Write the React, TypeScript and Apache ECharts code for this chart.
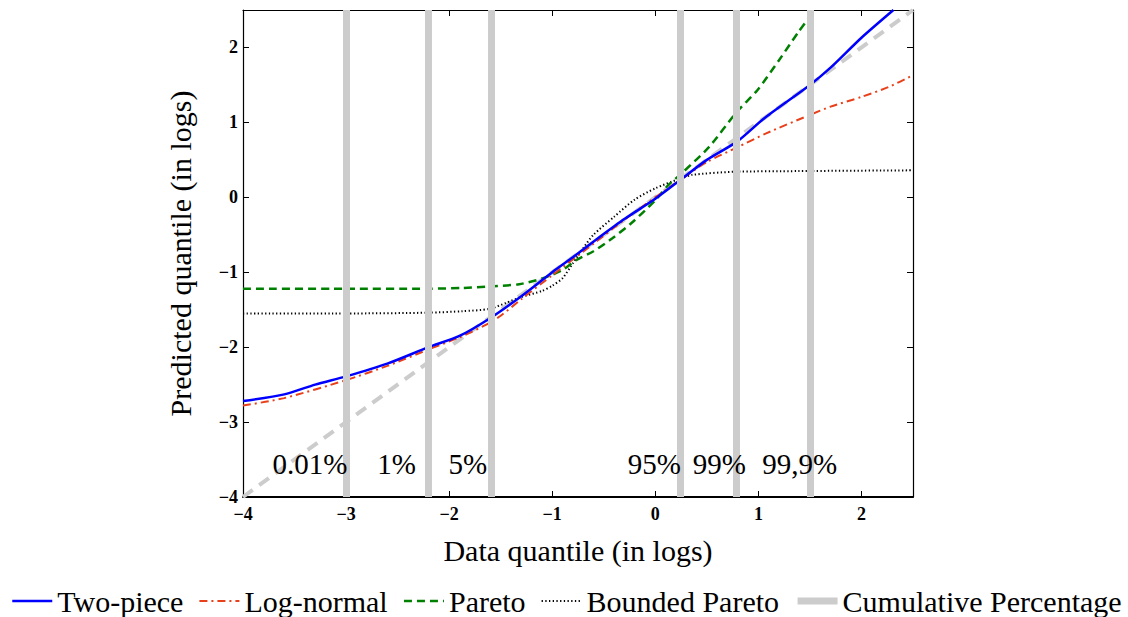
import React, { useEffect, useRef } from "react";
import * as echarts from "echarts";

// ---- data ----
const xTwoPiece = [-4, -3.6, -3.3, -3.0, -2.6, -2.2, -1.9, -1.6, -1.3, -1.0, -0.8, -0.55, -0.3, 0, 0.25, 0.5, 0.8, 1.07, 1.5, 1.7, 2.0, 2.31];
const yTwoPiece = [-2.72, -2.63, -2.5, -2.39, -2.22, -2.0, -1.85, -1.61, -1.32, -1.0, -0.8, -0.54, -0.29, -0.02, 0.24, 0.5, 0.75, 1.07, 1.5, 1.73, 2.13, 2.5];

const xLogNormal = [-4, -3.6, -3.0, -2.6, -2.2, -1.9, -1.64, -1.5, -1.3, -1.0, -0.6, -0.3, 0, 0.25, 0.5, 0.8, 1.07, 1.5, 1.7, 2.0, 2.26, 2.5];
const yLogNormal = [-2.78, -2.68, -2.44, -2.25, -2.03, -1.87, -1.7, -1.58, -1.36, -1.04, -0.62, -0.3, 0.0, 0.24, 0.47, 0.67, 0.85, 1.1, 1.21, 1.34, 1.47, 1.63];

const xPareto = [-4, -3, -2.2, -1.87, -1.61, -1.32, -1.09, -0.9, -0.77, -0.6, -0.42, -0.22, 0, 0.13, 0.24, 0.52, 0.79, 0.99, 1.2, 1.39, 1.52];
const yPareto = [-1.22, -1.22, -1.22, -1.21, -1.19, -1.16, -1.08, -0.97, -0.84, -0.72, -0.55, -0.33, -0.04, 0.17, 0.3, 0.67, 1.14, 1.43, 1.83, 2.21, 2.45];

const xBounded = [-4, -3, -2.2, -1.87, -1.61, -1.45, -1.3, -1.1, -1.0, -0.9, -0.8, -0.7, -0.6, -0.4, -0.2, 0, 0.24, 0.36, 0.75, 1.39, 2.5];
const yBounded = [-1.55, -1.55, -1.54, -1.52, -1.49, -1.41, -1.33, -1.25, -1.18, -1.08, -0.88, -0.68, -0.5, -0.26, -0.03, 0.12, 0.25, 0.3, 0.34, 0.35, 0.36];

const xDiagonal = [-4, 2.5];
const yDiagonal = [-4, 2.5];

const cumulativeX = [-3.0, -2.2, -1.59, 0.24, 0.785, 1.495];
const pctLabels = ["0.01%", "1%", "5%", "95%", "99%", "99,9%"];
const pctLabelX = [-3.35, -2.51, -1.82, -0.01, 0.62, 1.4];
const pctLabelY = -3.56;

const seriesNames = ["Two-piece", "Log-normal", "Pareto", "Bounded Pareto", "Cumulative Percentage"];

const FONT = "'Liberation Serif', 'Times New Roman', serif";

const zip = (xs: number[], ys: number[]) => xs.map((x, i) => [x, ys[i]]);

const fmtTick = (v: number) => {
  if (!Number.isInteger(v)) return "";
  return String(v).replace("-", "\u2212");
};

export default function App() {
  const ref = useRef<HTMLDivElement>(null);

  useEffect(() => {
    if (!ref.current) return;
    const chart = echarts.init(ref.current, undefined, { renderer: "svg" });

    const tickLabelStyle = {
      fontFamily: FONT,
      fontWeight: "bold" as const,
      fontSize: 18,
      color: "#000",
    };

    const option: any = {
      animation: false,
      backgroundColor: "#fff",
      grid: { left: 243, right: 215, top: 10, bottom: 120, containLabel: false },
      legend: {
        data: seriesNames,
        left: 11,
        top: 586,
        padding: 0,
        itemWidth: 40,
        itemHeight: 14,
        itemGap: 15,
        selectedMode: false,
        itemStyle: { opacity: 0 },
        lineStyle: { width: "inherit" },
        textStyle: { fontFamily: FONT, fontSize: 30, lineHeight: 28, color: "#000" },
      },
      xAxis: [
        {
          type: "value",
          min: -4,
          max: 2.5,
          interval: 1,
          position: "bottom",
          name: "Data quantile (in logs)",
          nameLocation: "middle",
          nameGap: 38,
          nameTextStyle: { fontFamily: FONT, fontSize: 30, color: "#000" },
          axisLine: { show: true, onZero: false, lineStyle: { color: "#000", width: 2 } },
          axisTick: { show: true, inside: true, length: 6, lineStyle: { color: "#000", width: 1 } },
          axisLabel: { ...tickLabelStyle, margin: 8, formatter: fmtTick },
          splitLine: { show: false },
        },
        {
          type: "value",
          min: -4,
          max: 2.5,
          interval: 1,
          position: "top",
          axisLine: { show: true, onZero: false, lineStyle: { color: "#000", width: 1.2 } },
          axisTick: { show: true, inside: true, length: 6, lineStyle: { color: "#000", width: 1 } },
          axisLabel: { show: false },
          splitLine: { show: false },
        },
      ],
      yAxis: [
        {
          type: "value",
          min: -4,
          max: 2.5,
          interval: 1,
          position: "left",
          name: "Predicted quantile (in logs)",
          nameLocation: "middle",
          nameGap: 48,
          nameTextStyle: { fontFamily: FONT, fontSize: 30, color: "#000" },
          axisLine: { show: true, onZero: false, lineStyle: { color: "#000", width: 1.2 } },
          axisTick: { show: true, inside: true, length: 6, lineStyle: { color: "#000", width: 1 } },
          axisLabel: { ...tickLabelStyle, margin: 5, formatter: fmtTick },
          splitLine: { show: false },
        },
        {
          type: "value",
          min: -4,
          max: 2.5,
          interval: 1,
          position: "right",
          axisLine: { show: true, onZero: false, lineStyle: { color: "#000", width: 1.2 } },
          axisTick: { show: true, inside: true, length: 6, lineStyle: { color: "#000", width: 1 } },
          axisLabel: { show: false },
          splitLine: { show: false },
        },
      ],
      series: [
        {
          name: "45 degree",
          type: "line",
          data: zip(xDiagonal, yDiagonal),
          symbol: "none",
          z: 1,
          lineStyle: { color: "#cccccc", width: 4, type: [12, 8] },
        },
        {
          name: "Bounded Pareto",
          type: "line",
          data: zip(xBounded, yBounded),
          symbol: "none",
          smooth: 0.25,
          z: 2,
          itemStyle: { color: "#000" },
          lineStyle: { color: "#000", width: 2, type: [1.3, 2.4] },
        },
        {
          name: "Pareto",
          type: "line",
          data: zip(xPareto, yPareto),
          symbol: "none",
          smooth: 0.25,
          z: 3,
          itemStyle: { color: "#008000" },
          lineStyle: { color: "#008000", width: 2.5, type: [8, 5] },
        },
        {
          name: "Log-normal",
          type: "line",
          data: zip(xLogNormal, yLogNormal),
          symbol: "none",
          smooth: 0.25,
          z: 3,
          itemStyle: { color: "#e8401a" },
          lineStyle: { color: "#e8401a", width: 2, type: [8, 4, 2, 4] },
        },
        {
          name: "Two-piece",
          type: "line",
          data: zip(xTwoPiece, yTwoPiece),
          symbol: "none",
          smooth: 0.25,
          z: 4,
          itemStyle: { color: "#0000ff" },
          lineStyle: { color: "#0000ff", width: 2.5 },
        },
        {
          name: "Cumulative Percentage",
          type: "line",
          data: [],
          symbol: "none",
          z: 6,
          itemStyle: { color: "#cccccc" },
          lineStyle: { color: "#cccccc", width: 7 },
          markLine: {
            silent: true,
            symbol: ["none", "none"],
            label: { show: false },
            lineStyle: { color: "#cccccc", width: 7, type: "solid" },
            data: cumulativeX.map((x) => ({ xAxis: x })),
          },
        },
        {
          name: "pct labels",
          type: "scatter",
          symbolSize: 0,
          z: 7,
          silent: true,
          itemStyle: { opacity: 1 },
          data: pctLabels.map((t, i) => ({ name: t, value: [pctLabelX[i], pctLabelY] })),
          label: {
            show: true,
            position: "inside",
            formatter: "{b}",
            fontFamily: FONT,
            fontSize: 29,
            color: "#000",
            opacity: 1,
          },
        },
      ],
    };

    chart.setOption(option);
    return () => chart.dispose();
  }, []);

  return (
    <div
      ref={ref}
      style={{ position: "absolute", left: 0, top: 0, width: 1128, height: 617 }}
    />
  );
}
